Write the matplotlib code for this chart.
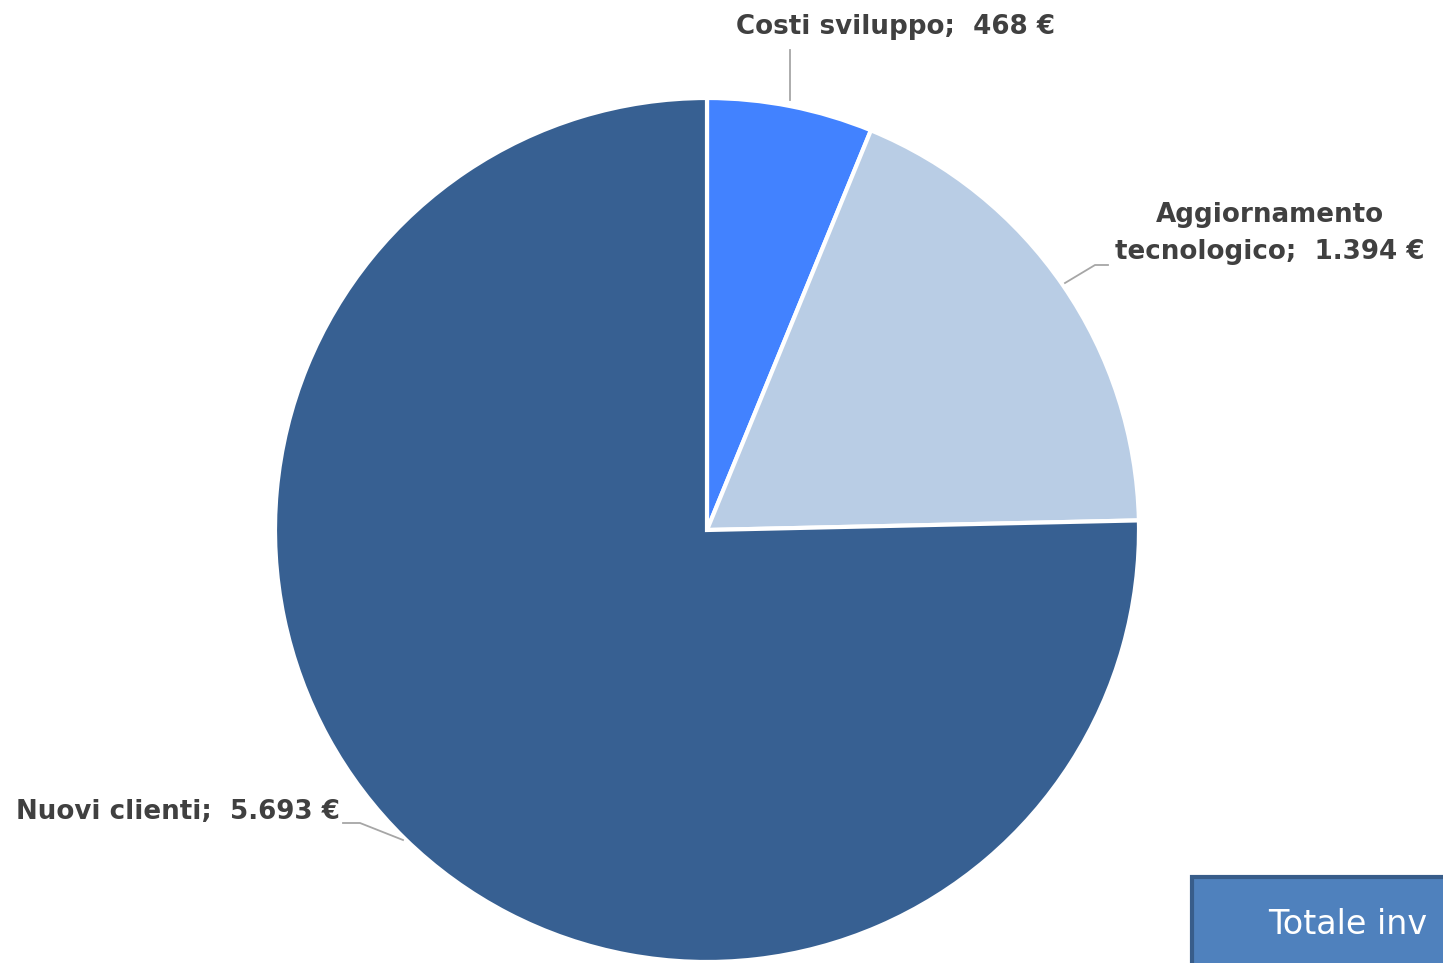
import matplotlib
matplotlib.use("Agg")
import matplotlib.pyplot as plt
from matplotlib.patches import Rectangle

categories = ["Costi sviluppo", "Aggiornamento tecnologico", "Nuovi clienti"]
values = [468, 1394, 5693]
value_labels = ["468 €", "1.394 €", "5.693 €"]
colors = ["#4282FF", "#B9CDE5", "#376092"]
box_text = "Totale inv"

W, H = 1443, 963
fig = plt.figure(figsize=(W / 100, H / 100), dpi=100)
ax = fig.add_axes([0, 0, 1, 1])

cx, cy, r = 707, H - 530, 432
ax.pie(values, colors=colors, startangle=90, counterclock=False,
       center=(cx, cy), radius=r, frame=True,
       wedgeprops=dict(edgecolor="white", linewidth=3))
ax.set_xlim(0, W)
ax.set_ylim(0, H)
ax.set_aspect("equal")
ax.axis("off")

tcol = "#404040"
fam = ["DejaVu Sans"]
fs = 18.8

# labels
ax.text(895, H - 27, f"{categories[0]};  {value_labels[0]}", ha="center", va="center",
        fontsize=fs, fontweight="bold", color=tcol, family=fam)
ax.plot([790, 790], [H - 100, H - 50], color="#A6A6A6", lw=1.3)

ax.text(1270, H - 233, "Aggiornamento\ntecnologico;  " + value_labels[1], ha="center", va="center",
        fontsize=fs, fontweight="bold", color=tcol, family=fam, linespacing=1.55)
ax.plot([1065, 1095, 1108], [H - 283, H - 265, H - 265], color="#A6A6A6", lw=1.3)

ax.text(340, H - 812, f"{categories[2]};  {value_labels[2]}", ha="right", va="center",
        fontsize=fs, fontweight="bold", color=tcol, family=fam)
ax.plot([343, 360, 403], [H - 823, H - 823, H - 840], color="#A6A6A6", lw=1.3)

# total box (cut off at figure edge)
ax.add_patch(Rectangle((1192, -20), 300, H - 877 + 20, facecolor="#4F81BD",
                       edgecolor="#385D8A", linewidth=3, clip_on=False))
ax.text(1268, H - 925, box_text, ha="left", va="center",
        fontsize=24, color="white", family=["DejaVu Sans"])

fig.savefig("out.png", dpi=100)
